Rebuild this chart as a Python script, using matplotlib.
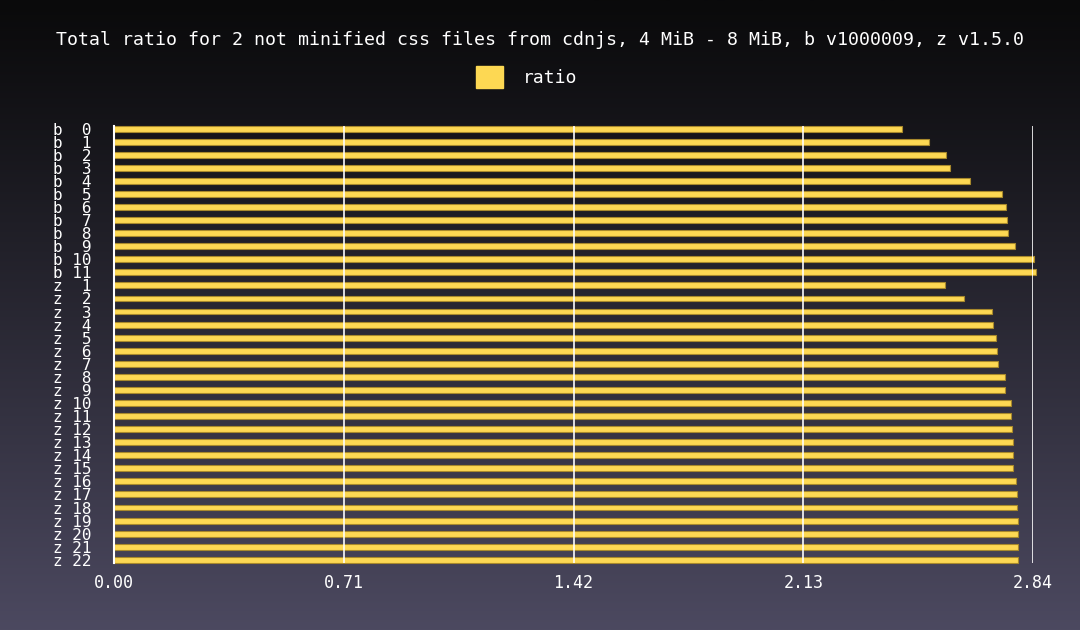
import numpy as np
import matplotlib
matplotlib.use("Agg")
import matplotlib.pyplot as plt
from matplotlib.patches import Patch

title = "Total ratio for 2 not minified css files from cdnjs, 4 MiB - 8 MiB, b v1000009, z v1.5.0"
b_ids = list(range(0, 12))
z_ids = list(range(1, 23))
b_values = [2.435, 2.517, 2.570, 2.582, 2.645, 2.743, 2.758, 2.760, 2.764, 2.784, 2.842, 2.850]
z_values = [2.568, 2.627, 2.712, 2.716, 2.726, 2.728, 2.732, 2.753, 2.754, 2.773, 2.773,
            2.774, 2.778, 2.778, 2.779, 2.787, 2.790, 2.792, 2.793, 2.793, 2.793, 2.794]
x_ticks = [0.00, 0.71, 1.42, 2.13, 2.84]
series_name = "ratio"

labels = [f"b {i:>2}" for i in b_ids] + [f"z {i:>2}" for i in z_ids]
values = b_values + z_values

mono = ["DejaVu Sans Mono"]
bar_color = "#fdd853"
edge_color = "#a8892c"

fig = plt.figure(figsize=(10.8, 6.3), dpi=100)

# background gradient
bg = fig.add_axes([0, 0, 1, 1], zorder=-10)
top = np.array([10, 10, 11]) / 255
bot = np.array([76, 73, 96]) / 255
t = np.linspace(0, 1, 256)[:, None] ** 1.1
grad = top[None, :] * (1 - t) + bot[None, :] * t
bg.imshow(grad[:, None, :], aspect="auto", extent=[0, 1, 0, 1])
bg.axis("off")

ax = fig.add_axes([0.1056, 0.1063, 0.8509, 0.6937])
ax.patch.set_alpha(0)
y = np.arange(len(labels))
bars = ax.barh(y, values, height=0.45, color=bar_color, edgecolor=edge_color,
               linewidth=0.8, zorder=2, label=series_name)
for b in bars:
    b.set_clip_on(False)
ax.set_xlim(0, 2.84)
ax.set_ylim(len(labels) - 1 + 0.25, -0.2)
ax.set_xticks(x_ticks)
ax.set_xticklabels([f"{v:.2f}" for v in x_ticks], family=mono, fontsize=12, color="white")
ax.set_yticks(y)
ax.set_yticklabels(labels, family=mono, fontsize=11.5, color="white")
ax.tick_params(axis="both", length=0)
ax.tick_params(axis="y", pad=16)
ax.tick_params(axis="x", pad=8)
for s in ax.spines.values():
    s.set_visible(False)
ax.grid(axis="x", color="white", linewidth=1.3, alpha=0.9, zorder=5)
ax.axvline(x_ticks[0], color="white", linewidth=1.5, zorder=5, clip_on=False)
ax.set_axisbelow(False)

fig.text(0.5, 1 - 40 / 630, title, ha="center", va="center", family=mono,
         fontsize=13.15, color="white")
leg = fig.legend(handles=[Patch(facecolor=bar_color, edgecolor=bar_color)],
                 labels=[series_name], loc="center", bbox_to_anchor=(527 / 1080, 1 - 77 / 630),
                 frameon=False, prop={"family": mono, "size": 13},
                 handlelength=1.5, handleheight=1.5, handletextpad=1.1)
for txt in leg.get_texts():
    txt.set_color("white")

fig.savefig("out.png", dpi=100)
